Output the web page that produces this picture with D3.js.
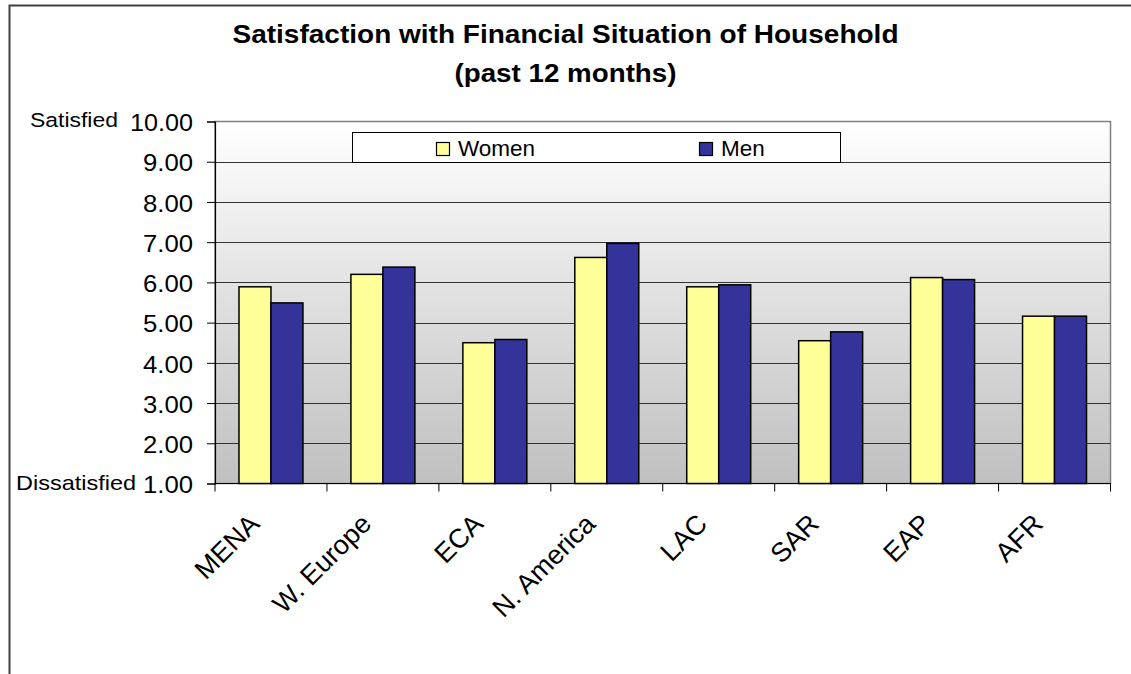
<!DOCTYPE html>
<html><head><meta charset="utf-8">
<script src="https://cdn.jsdelivr.net/npm/d3@7"></script>
<style>body{margin:0;background:#fff;}svg{display:block;font-family:"Liberation Sans",Arial,sans-serif;}</style>
</head><body><svg id="c" width="1131" height="674"></svg>
<script>
const categories = ["MENA","W. Europe","ECA","N. America","LAC","SAR","EAP","AFR"];
const women = [5.89,6.20,4.50,6.62,5.89,4.55,6.12,5.16];
const men   = [5.49,6.38,4.58,6.97,5.94,4.77,6.07,5.16];
const seriesNames = ["Women","Men"];
const seriesColors = ["#FFFF99","#333399"];
const yTicks = [1,2,3,4,5,6,7,8,9,10];
const titleLines = ["Satisfaction with Financial Situation of Household","(past 12 months)"];

const svg = d3.select("#c");
const L=215, R=1110.5, T=121.5, B=483.5;
const FF = "Liberation Sans, Arial, sans-serif";

// outer frame
svg.append("rect").attr("x",9.5).attr("y",5.5).attr("width",1140).attr("height",700)
  .attr("fill","#fff").attr("stroke","#404040").attr("stroke-width",2);

const defs = svg.append("defs");
const g = defs.append("linearGradient").attr("id","bg").attr("x1",0).attr("y1",0).attr("x2",0).attr("y2",1);
g.append("stop").attr("offset","0%").attr("stop-color","#ffffff");
g.append("stop").attr("offset","100%").attr("stop-color","#c0c0c0");

const catW = (R-L)/categories.length;
const x0 = d3.scaleBand().domain(categories).range([L,R]).paddingInner(0).paddingOuter(0);
const x1 = d3.scaleBand().domain(seriesNames).range([0.75/3.5*catW, 2.75/3.5*catW]);
const y = d3.scaleLinear().domain([1,10]).range([B,T]);

svg.append("rect").attr("x",L).attr("y",T).attr("width",R-L).attr("height",B-T)
  .attr("fill","url(#bg)").attr("stroke","#808080").attr("stroke-width",1.5);

// gridlines
svg.append("g").selectAll("line").data(yTicks.slice(1,-1)).join("line")
  .attr("x1",L).attr("x2",R).attr("y1",d=>Math.round(y(d))+0.5).attr("y2",d=>Math.round(y(d))+0.5)
  .attr("stroke","#333").attr("stroke-width",1);

// bars
const data = categories.map((c,i)=>({c, vals:[women[i],men[i]]}));
const grp = svg.append("g").selectAll("g").data(data).join("g")
  .attr("transform",d=>`translate(${x0(d.c)},0)`);
grp.selectAll("rect").data(d=>d.vals.map((v,j)=>({v,s:seriesNames[j],col:seriesColors[j]}))).join("rect")
  .attr("x",d=>x1(d.s)).attr("width",x1.bandwidth())
  .attr("y",d=>y(d.v)).attr("height",d=>B-y(d.v))
  .attr("fill",d=>d.col).attr("stroke","#000").attr("stroke-width",1.5);

// y axis
const yAxis = d3.axisLeft(y).tickValues(yTicks).tickFormat(d3.format(".2f")).tickSize(8).tickPadding(14);
const ya = svg.append("g").attr("transform",`translate(${L},0)`).call(yAxis);
ya.select(".domain").attr("stroke","#000").attr("stroke-width",1.2);
ya.selectAll(".tick line").attr("stroke","#000");
ya.selectAll("text").attr("font-size",23).attr("fill","#000").attr("font-family",FF)
  .attr("dy","0.4em").attr("textLength",d=>d>=10?63:50).attr("lengthAdjust","spacingAndGlyphs");

svg.append("text").attr("x",118).attr("y",y(10)+5.8).attr("text-anchor","end")
  .attr("font-size",20.5).attr("textLength",88).attr("lengthAdjust","spacingAndGlyphs").text("Satisfied");
svg.append("text").attr("x",136).attr("y",y(1)+6).attr("text-anchor","end")
  .attr("font-size",21).attr("textLength",120).attr("lengthAdjust","spacingAndGlyphs").text("Dissatisfied");

// x axis
const xa = svg.append("g").attr("transform",`translate(0,${B})`);
xa.append("line").attr("x1",L).attr("x2",R).attr("y1",0).attr("y2",0).attr("stroke","#000").attr("stroke-width",1.2);
const bounds = categories.map(c=>x0(c)).concat([R]);
xa.selectAll("line.tk").data(bounds).join("line").attr("class","tk")
  .attr("x1",d=>d).attr("x2",d=>d).attr("y1",0).attr("y2",8).attr("stroke","#000");
xa.selectAll("text").data(categories).join("text")
  .attr("transform",c=>`translate(${x0(c)+x0.bandwidth()/2-10},${42}) rotate(-45)`)
  .attr("text-anchor","end").attr("font-size",27).text(c=>c);

// legend
const lg = svg.append("g");
lg.append("rect").attr("x",352.5).attr("y",132.5).attr("width",488).attr("height",30)
  .attr("fill","#fff").attr("stroke","#000").attr("stroke-width",1);
const legX = [436.5, 699.5];
seriesNames.forEach((s,i)=>{
  lg.append("rect").attr("x",legX[i]).attr("y",142.5).attr("width",13).attr("height",13)
    .attr("fill",seriesColors[i]).attr("stroke","#000").attr("stroke-width",1.2);
  lg.append("text").attr("x",legX[i]+21.5).attr("y",155.5).attr("font-size",22.5).text(s);
});

// title
const tW = [666, 222];
svg.selectAll("text.title").data(titleLines).join("text").attr("class","title")
  .attr("x",565.5).attr("y",(d,i)=>i===0?43:82).attr("text-anchor","middle")
  .attr("font-weight","bold").attr("font-size",25)
  .attr("textLength",(d,i)=>tW[i]).attr("lengthAdjust","spacingAndGlyphs").text(d=>d);
</script></body></html>
